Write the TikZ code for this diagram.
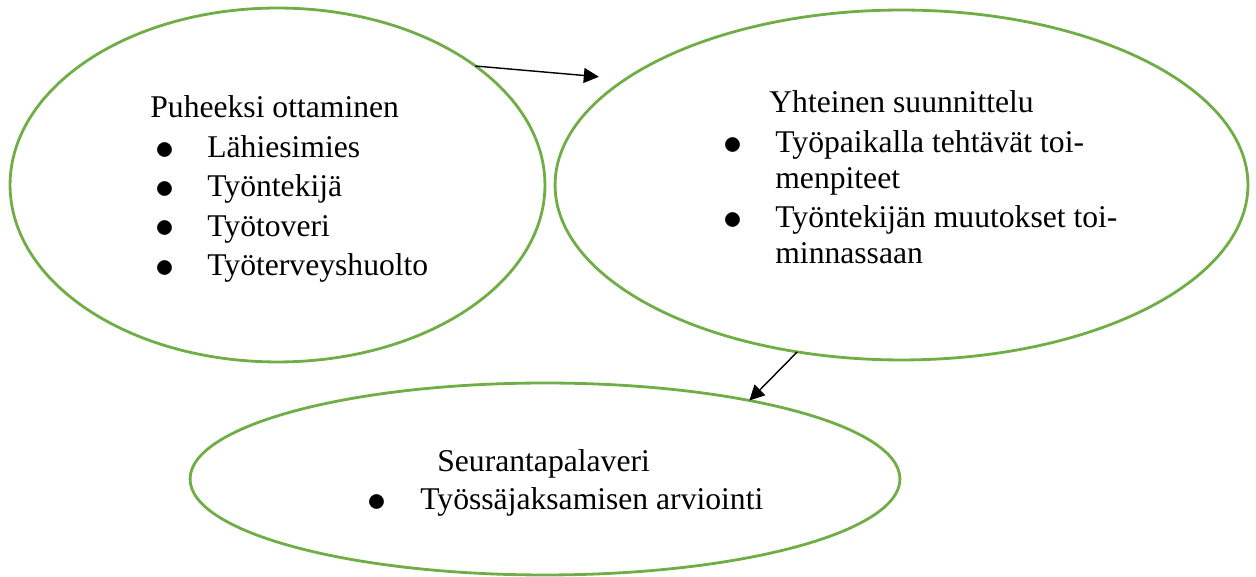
\documentclass[tikz,border=0pt]{standalone}
\usepackage{fontspec}
\setmainfont{Liberation Serif}
\usetikzlibrary{shapes.geometric}
\usetikzlibrary{arrows.meta}
\definecolor{kehys}{HTML}{70AD47}
\newcommand{\luetelma}[3]{\hspace*{#1}\makebox[#2][l]{\raisebox{-1.1pt}{\scalebox{1.25}{$\bullet$}}}#3}

\begin{document}
\begin{tikzpicture}[x=0.02cm,y=0.02cm,
 soikio/.style={ellipse,draw=kehys,line width=1.6pt,inner sep=0pt,outer sep=0pt},
 teksti/.style={anchor=base west,inner sep=0pt,font=\fontsize{18pt}{22.4pt}\selectfont},
 nuoli/.style={-{Triangle[length=0.3cm,width=0.3cm]},line width=0.8pt}]
 \useasboundingbox (0,0) rectangle (1256,577);
 % soikiot
 \node[soikio,minimum width=10.7cm,minimum height=7.08cm] (puhe) at (277.5,392) {};
 \node[soikio,minimum width=13.86cm,minimum height=7cm] (yht) at (901.5,392) {};
 \node[soikio,minimum width=14.2cm,minimum height=3.84cm] (seur) at (545,98) {};
 % tekstit
 \node[teksti] (puheT) at (150,459) {\begin{tabular}[t]{@{}l@{}}
  Puheeksi ottaminen\\
  \luetelma{0.1cm}{1.04cm}{Lähiesimies}\\
  \luetelma{0.1cm}{1.04cm}{Työntekijä}\\
  \luetelma{0.1cm}{1.04cm}{Työtoveri}\\
  \luetelma{0.1cm}{1.04cm}{Työterveyshuolto}
 \end{tabular}};
 \node[teksti,font=\fontsize{18pt}{20.3pt}\selectfont] (yhtT) at (723,464) {\begin{tabular}[t]{@{}l@{}}
  \hspace*{0.92cm}Yhteinen suunnittelu\\[0.08cm]
  \luetelma{0pt}{1.04cm}{Työpaikalla tehtävät toi-}\\
  \hspace*{1.04cm}menpiteet\\[0.08cm]
  \luetelma{0pt}{1.04cm}{Työntekijän muutokset toi-}\\
  \hspace*{1.04cm}minnassaan
 \end{tabular}};
 \node[teksti] (seurT) at (367,105.3) {\begin{tabular}[t]{@{}l@{}}
  \hspace*{1.4cm}Seurantapalaveri\\[-0.03cm]
  \luetelma{0pt}{1.06cm}{Työssäjaksamisen arviointi}
 \end{tabular}};
 % nuolet
 \draw[nuoli,shorten >=0.54cm] (puhe.31) -- (yht.159.3);
 \draw[nuoli] (yht.238.25) -- (seur.21.4);
\end{tikzpicture}
\end{document}
